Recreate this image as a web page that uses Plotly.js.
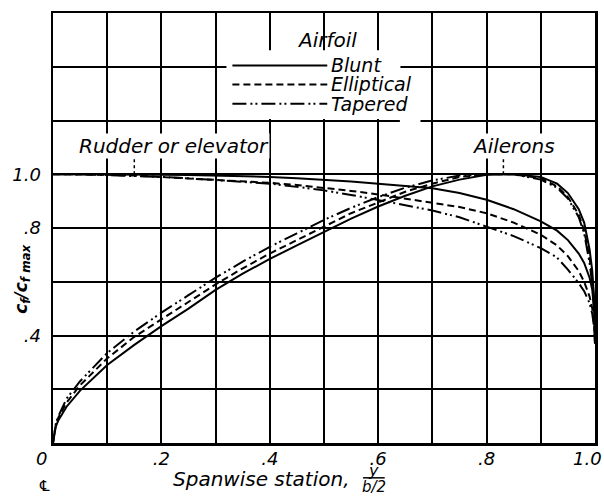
<!DOCTYPE html>
<html><head><meta charset="utf-8">
<script src="https://cdn.plot.ly/plotly-3.0.1.min.js"></script>
<style>html,body{margin:0;padding:0;background:#fff}</style>
</head><body><div id="chart" style="width:604px;height:497px"></div>
<script>
// Spanwise station y/(b/2)
const spanStations = [0, 0.005, 0.01, 0.025, 0.05, 0.1, 0.15, 0.2, 0.25, 0.3, 0.35, 0.4, 0.45, 0.5, 0.55, 0.6, 0.65, 0.7, 0.75, 0.8, 0.85, 0.9, 0.93, 0.95, 0.97, 0.98, 0.99, 0.995, 0.999, 1.0];

// Ailerons: cf/cfmax
const aileronBlunt      = [0, 0.06, 0.085, 0.135, 0.195, 0.29, 0.365, 0.435, 0.5, 0.57, 0.63, 0.685, 0.735, 0.785, 0.835, 0.88, 0.92, 0.955, 0.98, 0.998, 1.0, 0.99, 0.965, 0.93, 0.87, 0.82, 0.72, 0.64, 0.52, 0.37];
const aileronElliptical = [0, 0.065, 0.095, 0.15, 0.215, 0.315, 0.395, 0.46, 0.525, 0.59, 0.65, 0.705, 0.755, 0.805, 0.855, 0.895, 0.935, 0.965, 0.99, 1.0, 1.0, 0.985, 0.955, 0.915, 0.85, 0.79, 0.69, 0.61, 0.5, 0.37];
const aileronTapered    = [0, 0.07, 0.1, 0.165, 0.23, 0.335, 0.415, 0.485, 0.55, 0.615, 0.675, 0.73, 0.78, 0.83, 0.875, 0.915, 0.95, 0.977, 0.995, 1.0, 1.0, 0.98, 0.95, 0.91, 0.84, 0.78, 0.67, 0.59, 0.48, 0.37];

// Rudder or elevator: cf/cfmax
const rudderBlunt      = [1, 1, 1, 1, 1, 1.0, 1.0, 0.998, 0.997, 0.995, 0.993, 0.99, 0.985, 0.98, 0.973, 0.965, 0.957, 0.948, 0.93, 0.905, 0.87, 0.825, 0.79, 0.755, 0.705, 0.67, 0.615, 0.57, 0.48, 0.37];
const rudderElliptical = [1, 1, 1, 1, 1, 0.998, 0.995, 0.99, 0.985, 0.98, 0.975, 0.968, 0.96, 0.95, 0.938, 0.925, 0.91, 0.895, 0.878, 0.855, 0.82, 0.775, 0.735, 0.695, 0.64, 0.6, 0.545, 0.5, 0.43, 0.37];
const rudderTapered    = [1, 1, 1, 1, 1, 0.997, 0.994, 0.99, 0.985, 0.978, 0.972, 0.965, 0.953, 0.94, 0.923, 0.905, 0.885, 0.865, 0.84, 0.805, 0.77, 0.725, 0.69, 0.645, 0.595, 0.565, 0.52, 0.48, 0.42, 0.37];

const seriesNames = ['Blunt', 'Elliptical', 'Tapered'];
const xTickVals = [0, 0.1, 0.2, 0.3, 0.4, 0.5, 0.6, 0.7, 0.8, 0.9, 1.0];
const xTickText = ['', '', '.2', '', '.4', '', '.6', '', '.8', '', ''];
const yTickVals = [0, 0.2, 0.4, 0.6, 0.8, 1.0, 1.2, 1.4, 1.6];
const yTickText = ['', '', '.4', '', '.8', '1.0', '', '', ''];

const FONT = 'DejaVu Sans, sans-serif';
const dashes = {Blunt: 'solid', Elliptical: '7px,4px', Tapered: '14px,4px,2px,3px,2px,4px'};
const LW = 2;

function tr(y, name){
  return {x: spanStations, y: y, type: 'scatter', mode: 'lines', name: name, showlegend: false,
    line: {color: '#000', width: LW, dash: dashes[name]}, hoverinfo: 'skip'};
}
const data = [
  tr(rudderBlunt, 'Blunt'), tr(rudderElliptical, 'Elliptical'), tr(rudderTapered, 'Tapered'),
  tr(aileronBlunt, 'Blunt'), tr(aileronElliptical, 'Elliptical'), tr(aileronTapered, 'Tapered')
];

const itf = (s) => ({family: FONT, size: s, color: '#000', style: 'italic'});

// legend drawn as shapes + text
const legY = {Blunt: 1.405, Elliptical: 1.334, Tapered: 1.262};
const shapes = [
  {type: 'rect', xref: 'x', yref: 'y', x0: 0.32, x1: 0.641, y0: 1.206, y1: 1.461, fillcolor: '#fff', line: {width: 0}},
  {type: 'rect', xref: 'x', yref: 'y', x0: 0.64, x1: 0.678, y0: 1.18, y1: 1.235, fillcolor: '#fff', line: {width: 0}},
  {type: 'line', xref: 'x', yref: 'y', x0: 0.15, x1: 0.15, y0: 1.0, y1: 1.1, line: {color: '#000', width: 1.5, dash: 'dot'}},
  {type: 'line', xref: 'x', yref: 'y', x0: 0.831, x1: 0.831, y0: 1.0, y1: 1.07, line: {color: '#000', width: 1.5, dash: 'dot'}},
  {type: 'line', xref: 'paper', yref: 'paper', x0: 0.572, x1: 0.612, y0: -0.081, y1: -0.081, line: {color: '#000', width: 1.5}}
];
seriesNames.forEach(n => shapes.push({type: 'line', xref: 'x', yref: 'y', x0: 0.331, x1: 0.506, y0: legY[n], y1: legY[n],
  line: {color: '#000', width: LW, dash: dashes[n]}}));

const ann = (o) => Object.assign({showarrow: false, xanchor: 'center', yanchor: 'middle'}, o);
const annotations = [
  ann({xref: 'x', yref: 'y', x: 0.506, y: 1.498, text: 'Airfoil', font: itf(20)}),
  ann({xref: 'x', yref: 'y', x: 0.224, y: 1.105, text: 'Rudder or elevator', font: itf(20), bgcolor: '#fff', borderpad: 0}),
  ann({xref: 'x', yref: 'y', x: 0.849, y: 1.105, text: 'Ailerons', font: itf(20), bgcolor: '#fff', borderpad: 0}),
  ann({xref: 'paper', yref: 'paper', x: -0.022, y: 0, yshift: -15, text: '0', font: itf(18)}),
  ann({xref: 'paper', yref: 'paper', x: 1, y: 0, xshift: 9, yshift: -15, xanchor: 'right', text: '1.0', font: itf(18)}),
  ann({xref: 'paper', yref: 'paper', x: -0.016, y: 0, yshift: -43, text: '\u2104', font: {family: FONT, size: 15, color: '#000'}}),
  ann({xref: 'paper', yref: 'paper', x: 0.552, y: 0, yshift: -36, xanchor: 'right', text: 'Spanwise station,', font: itf(20)}),
  ann({xref: 'paper', yref: 'paper', x: 0.592, y: 0, yshift: -27, text: 'y', font: itf(16)}),
  ann({xref: 'paper', yref: 'paper', x: 0.592, y: 0, yshift: -44, text: 'b/2', font: itf(15)}),
  ann({xref: 'paper', yref: 'paper', x: -0.057, y: 0.38, text: 'c<sub>f</sub>/c<sub>f max</sub>', textangle: -90,
    font: {family: FONT, size: 17, color: '#000', style: 'italic', weight: 'bold'}})
];
seriesNames.forEach(n => annotations.push(ann({xref: 'x', yref: 'y', x: 0.51, y: legY[n], xanchor: 'left', text: n, font: itf(19)})));

const layout = {
  width: 604, height: 497,
  margin: {l: 53, r: 9, t: 13, b: 54},
  paper_bgcolor: '#fff', plot_bgcolor: '#fff',
  showlegend: false,
  xaxis: {range: [0, 1], tickvals: xTickVals, ticktext: xTickText, showgrid: true, gridcolor: '#000', gridwidth: 2,
    zeroline: false, showline: true, mirror: true, linecolor: '#000', linewidth: 2.5, ticks: '',
    tickfont: itf(18), ticklabelstandoff: -2, ticklabeloverflow: 'allow', fixedrange: true},
  yaxis: {range: [0, 1.6], tickvals: yTickVals, ticktext: yTickText, showgrid: true, gridcolor: '#000', gridwidth: 2,
    zeroline: false, showline: true, mirror: true, linecolor: '#000', linewidth: 2.5, ticks: '',
    tickfont: itf(18), ticklabelstandoff: 6, fixedrange: true},
  shapes: shapes,
  annotations: annotations
};
Plotly.newPlot('chart', data, layout, {displayModeBar: false, staticPlot: true});
</script>
</body></html>
